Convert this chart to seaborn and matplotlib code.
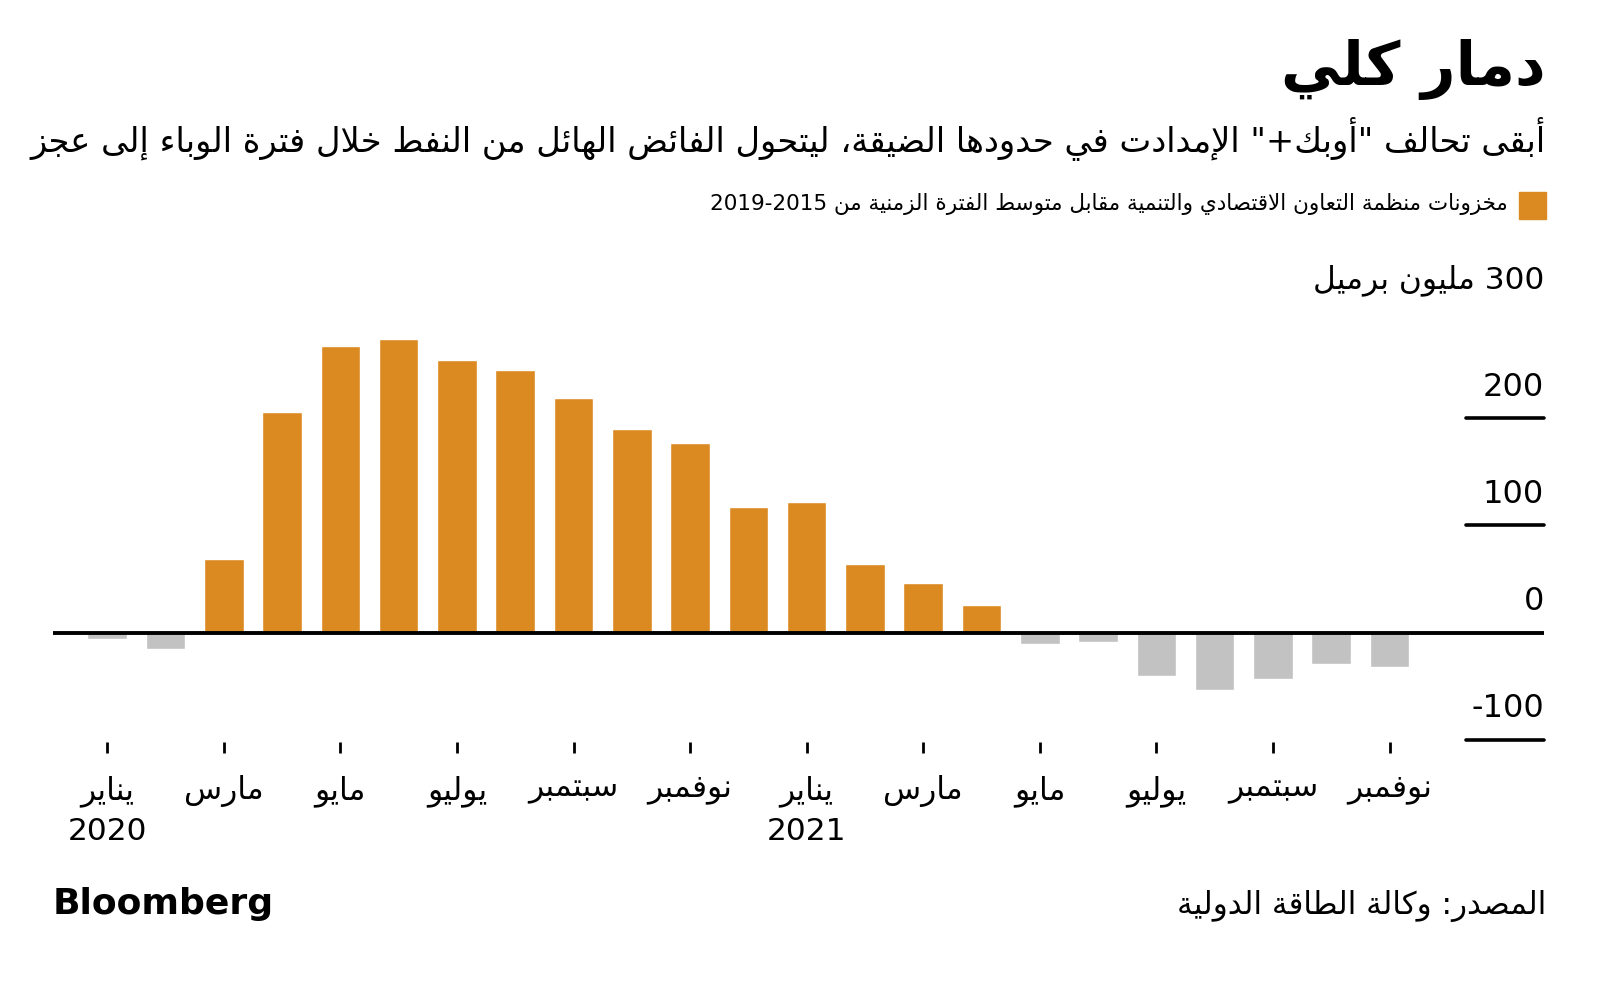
import re
import pandas as pd
import matplotlib
matplotlib.use("Agg")
import matplotlib.pyplot as plt
import seaborn as sns
from matplotlib.patches import Rectangle

# OECD stocks vs 2015-2019 average, million barrels
periods = ["2020-01", "2020-02", "2020-03", "2020-04", "2020-05", "2020-06",
           "2020-07", "2020-08", "2020-09", "2020-10", "2020-11", "2020-12",
           "2021-01", "2021-02", "2021-03", "2021-04", "2021-05", "2021-06",
           "2021-07", "2021-08", "2021-09", "2021-10", "2021-11"]
stock_gap = [-6, -15, 69, 206, 267, 274, 254, 245, 219, 190, 177, 117,
             122, 64, 46, 26, -11, -9, -41, -54, -43, -29, -32]

month_labels = ["يناير", "مارس", "مايو", "يوليو", "سبتمبر", "نوفمبر"]
y_ticks = [200, 100, 0, -100]

title = "دمار كلي"
subtitle = 'أبقى تحالف "أوبك+" الإمدادت في حدودها الضيقة، ليتحول الفائض الهائل من النفط خلال فترة الوباء إلى عجز'
legend_label = "مخزونات منظمة التعاون الاقتصادي والتنمية مقابل متوسط الفترة الزمنية من 2019-2015"
unit_label = "300 مليون برميل"
source = "المصدر: وكالة الطاقة الدولية"

ORANGE = "#DB8A22"
GREY = "#C2C2C2"

# matplotlib has no arabic shaping / bidi, so do a small version here
FORMS = {}
code = 0xFE80
for ch in "ءآأؤإئابةتثجحخدذرزسشصضطظعغفقكلمنهوىي":
    if ch == "ء":
        n = 1
    elif ch in "آأؤإادذرزوىة":
        n = 2
    else:
        n = 4
    FORMS[ch] = (code, n)
    code += n
LAM_ALEF = {"آ": 0xFEF5, "أ": 0xFEF7, "إ": 0xFEF9, "ا": 0xFEFB}


def ar(s):
    out = []
    i = 0
    prev_joins = False
    while i < len(s):
        c = s[i]
        nxt = s[i + 1] if i + 1 < len(s) else ""
        if c in FORMS:
            if c == "ل" and nxt in LAM_ALEF:
                out.append(chr(LAM_ALEF[nxt] + (1 if prev_joins else 0)))
                prev_joins = False
                i += 2
                continue
            base, n = FORMS[c]
            next_joins = nxt in FORMS and nxt != "ء"
            if n == 4:
                if prev_joins:
                    idx = 3 if next_joins else 1
                else:
                    idx = 2 if next_joins else 0
            elif n == 2:
                idx = 1 if prev_joins else 0
            else:
                idx = 0
            out.append(chr(base + idx))
            prev_joins = n == 4
        else:
            out.append(c)
            prev_joins = False
        i += 1
    vis = "".join(out)[::-1]
    return re.sub(r"[0-9A-Za-z]+(?:[-.,][0-9A-Za-z]+)*", lambda m: m.group(0)[::-1], vis)


sns.set_style("white")
plt.rcParams["font.family"] = ["DejaVu Sans"]
plt.rcParams["text.color"] = "black"
plt.rcParams["xtick.color"] = "black"
plt.rcParams["xtick.labelcolor"] = "black"

df = pd.DataFrame({"month": periods, "value": stock_gap})
df["sign"] = ["pos" if v >= 0 else "neg" for v in df["value"]]

fig = plt.figure(figsize=(16, 9.84), dpi=100)
ax = fig.add_axes([53 / 1600, 1 - 753 / 984, 1491 / 1600, 442 / 984])

sns.barplot(data=df, x="month", y="value", hue="sign",
            palette={"pos": ORANGE, "neg": GREY}, dodge=False, width=0.68,
            saturation=1, legend=False, ax=ax)

ax.set_ylim(-112.4, 300)
ax.set_xlim(-0.93, 24.65)
for sp in ax.spines.values():
    sp.set_visible(False)
ax.set_xlabel("")
ax.set_ylabel("")
ax.set_yticks([])

# zero line + short right-hand tick lines
ax.axhline(0, color="black", lw=2.8, zorder=3)
for v in y_ticks:
    if v != 0:
        ax.plot([0.9477, 1.0], [v, v], transform=ax.get_yaxis_transform(),
                color="black", lw=2.6, clip_on=False)
    ax.text(1.0, v + 21, str(v), transform=ax.get_yaxis_transform(),
            ha="right", va="baseline", fontsize=23)
ax.text(1.0, 321, ar(unit_label), transform=ax.get_yaxis_transform(),
        ha="right", va="baseline", fontsize=22.5)

# x ticks every two months, year under january
tick_pos = list(range(0, len(periods), 2))
labels = []
for k, p in enumerate(tick_pos):
    lab = ar(month_labels[k % 6])
    if periods[p].endswith("-01"):
        lab += "\n" + periods[p][:4]
    labels.append(lab)
ax.set_xticks(tick_pos)
ax.set_xticklabels(labels)
ax.tick_params(axis="x", direction="in", length=8, width=2, pad=16,
               labelsize=22.5, bottom=True, colors="black")
for t in ax.get_xticklabels():
    t.set_linespacing(1.45)

# header
fig.text(1546 / 1600, 1 - 70 / 984, ar(title), ha="right", va="center",
         fontsize=43, fontweight="bold")
fig.text(1546 / 1600, 1 - 138 / 984, ar(subtitle), ha="right", va="center",
         fontsize=24.3)
fig.patches.append(Rectangle((1519 / 1600, 1 - 219 / 984), 27 / 1600, 27 / 984,
                             transform=fig.transFigure, color=ORANGE))
fig.text(1508 / 1600, 1 - 204 / 984, ar(legend_label), ha="right", va="center",
         fontsize=15.5)

# footer
fig.text(53 / 1600, 1 - 904 / 984, "Bloomberg", ha="left", va="center",
         fontsize=26, fontweight="bold")
fig.text(1546 / 1600, 1 - 906 / 984, ar(source), ha="right", va="center",
         fontsize=22.3)

fig.savefig("out.png", dpi=100, facecolor="white")
